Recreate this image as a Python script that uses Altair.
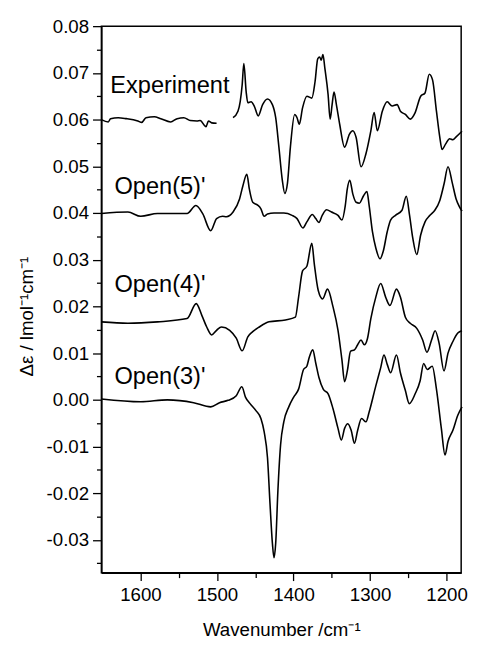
import altair as alt
import pandas as pd

# ---- Experiment (two segments, gap around 1490 cm-1) ----
exp_a_wn = [1651, 1642.0, 1639.0, 1629.1, 1618.5, 1603.4, 1598.3, 1592.7, 1581.9, 1573.4,
            1560.6, 1552.0, 1543.3, 1534.9, 1526.2, 1522.0, 1514.3, 1511.1, 1506.9, 1500.5]
exp_a_val = [0.0600, 0.0595, 0.0602, 0.0604, 0.0602, 0.0597, 0.0594, 0.0604, 0.0606, 0.0602,
             0.0595, 0.0602, 0.0604, 0.0598, 0.0597, 0.0598, 0.0585, 0.0597, 0.0593, 0.0592]

exp_b_wn = [1479.0, 1472.6, 1469.6, 1467.1, 1464.9, 1461.9, 1459.7, 1455.5, 1451.3, 1446.1,
            1440.4, 1434.0, 1427.6, 1423.3, 1419.1, 1414.7, 1411.4, 1407.9, 1404.1, 1398.5,
            1395.4, 1392.5, 1388.2, 1382.6, 1376.1, 1371.9, 1368.4, 1365.9, 1363.8, 1361.6,
            1359.0, 1354.8, 1352.2, 1349.6, 1347.1, 1344.0, 1339.7, 1333.3, 1326.9, 1322.6,
            1318.3, 1311.8, 1305.4, 1299.0, 1294.7, 1290.5, 1284.0, 1277.6, 1271.2, 1264.7,
            1260.4, 1253.9, 1247.5, 1241.1, 1233.9, 1228.2, 1222.7, 1218.4, 1213.3, 1208.9,
            1206.0, 1201.2, 1196.1, 1191.8, 1187.6, 1179.9]
exp_b_val = [0.0604, 0.0618, 0.0639, 0.0674, 0.0720, 0.0660, 0.0636, 0.0638, 0.0629, 0.0608,
             0.0632, 0.0644, 0.0632, 0.0604, 0.0541, 0.0471, 0.0442, 0.0464, 0.0541, 0.0611,
             0.0604, 0.0590, 0.0625, 0.0650, 0.0646, 0.0681, 0.0730, 0.0734, 0.0727, 0.0739,
             0.0709, 0.0653, 0.0601, 0.0632, 0.0659, 0.0632, 0.0590, 0.0541, 0.0569, 0.0576,
             0.0562, 0.0499, 0.0527, 0.0576, 0.0615, 0.0576, 0.0618, 0.0638, 0.0629, 0.0632,
             0.0618, 0.0611, 0.0601, 0.0615, 0.0650, 0.0657, 0.0697, 0.0685, 0.0618, 0.0562,
             0.0536, 0.0548, 0.0559, 0.0557, 0.0563, 0.0575]

# ---- Open(5)' ----
o5_wn = [1651, 1616.3, 1599.6, 1577.7, 1539.1, 1527.5, 1518.5, 1508.2, 1500.5, 1492.8,
         1487.7, 1479.0, 1470.5, 1466.2, 1461.0, 1457.7, 1453.3, 1446.9, 1442.6, 1438.4,
         1434.0, 1425.5, 1412.7, 1401.9, 1395.4, 1387.7, 1382.6, 1375.4, 1371.0, 1366.8,
         1362.5, 1356.8, 1350.4, 1341.9, 1336.8, 1332.4, 1329.8, 1326.5, 1322.6, 1318.3,
         1314.0, 1308.5, 1304.1, 1301.2, 1296.9, 1292.5, 1287.0, 1282.8, 1277.6, 1273.2,
         1266.8, 1258.3, 1252.7, 1248.4, 1244.2, 1239.0, 1233.9, 1228.2, 1221.8, 1215.4,
         1208.9, 1203.4, 1198.2, 1192.7, 1187.6, 1183.2, 1179.9]
o5_val = [0.0399, 0.0402, 0.0393, 0.0399, 0.0399, 0.0416, 0.0398, 0.0362, 0.0388, 0.0393,
          0.0392, 0.0402, 0.0430, 0.0458, 0.0483, 0.0451, 0.0423, 0.0417, 0.0409, 0.0393,
          0.0398, 0.0400, 0.0400, 0.0395, 0.0388, 0.0368, 0.0381, 0.0397, 0.0388, 0.0380,
          0.0395, 0.0407, 0.0402, 0.0395, 0.0385, 0.0416, 0.0451, 0.0470, 0.0441, 0.0423,
          0.0421, 0.0437, 0.0446, 0.0416, 0.0360, 0.0325, 0.0302, 0.0318, 0.0360, 0.0385,
          0.0395, 0.0406, 0.0436, 0.0395, 0.0346, 0.0311, 0.0353, 0.0381, 0.0395, 0.0406,
          0.0427, 0.0462, 0.0499, 0.0465, 0.0430, 0.0413, 0.0404]

# ---- Open(4)' ----
o4_wn = [1651, 1616.3, 1577.7, 1539.1, 1527.1, 1519.8, 1513.4, 1507.0, 1500.5, 1494.1,
         1483.4, 1474.8, 1467.1, 1459.7, 1453.3, 1444.8, 1432.0, 1410.5, 1397.6, 1393.4,
         1388.2, 1382.6, 1376.1, 1372.8, 1367.7, 1362.0, 1355.6, 1348.4, 1341.9, 1336.8,
         1333.3, 1329.4, 1325.6, 1320.4, 1316.2, 1311.8, 1307.6, 1303.3, 1299.0, 1292.5,
         1286.1, 1279.7, 1274.1, 1265.5, 1260.4, 1253.9, 1247.5, 1239.0, 1231.3, 1225.7,
         1219.7, 1215.0, 1209.8, 1203.4, 1198.2, 1191.8, 1185.4, 1179.9]
o4_val = [0.0167, 0.0164, 0.0167, 0.0174, 0.0206, 0.0181, 0.0156, 0.0139, 0.0149, 0.0156,
          0.0149, 0.0132, 0.0105, 0.0135, 0.0146, 0.0156, 0.0167, 0.0171, 0.0177, 0.0220,
          0.0276, 0.0286, 0.0335, 0.0290, 0.0234, 0.0216, 0.0237, 0.0199, 0.0149, 0.0086,
          0.0039, 0.0065, 0.0104, 0.0107, 0.0118, 0.0128, 0.0118, 0.0132, 0.0174, 0.0220,
          0.0249, 0.0220, 0.0202, 0.0237, 0.0220, 0.0177, 0.0164, 0.0153, 0.0128, 0.0102,
          0.0128, 0.0148, 0.0121, 0.0062, 0.0100, 0.0125, 0.0143, 0.0148]

# ---- Open(3)' ----
o3_wn = [1651, 1599.6, 1564.8, 1530.5, 1508.2, 1496.7, 1485.5, 1474.8, 1467.5, 1462.8,
         1456.8, 1449.1, 1442.6, 1438.4, 1434.0, 1430.7, 1427.6, 1425.5, 1423.3, 1420.4,
         1416.9, 1412.7, 1406.2, 1399.8, 1393.4, 1386.9, 1382.6, 1379.6, 1374.9, 1371.0,
         1366.8, 1361.2, 1354.8, 1348.4, 1341.9, 1337.6, 1333.3, 1329.1, 1324.7, 1320.4,
         1316.2, 1311.1, 1305.4, 1301.2, 1292.5, 1286.1, 1281.9, 1277.6, 1273.2, 1265.5,
         1260.4, 1253.9, 1248.8, 1241.1, 1234.6, 1230.0, 1225.3, 1218.8, 1213.3, 1206.9,
         1202.1, 1198.2, 1191.8, 1185.4, 1179.9]
o3_val = [0.0002, -0.0004, 0.0000, -0.0006, -0.0015, -0.0006, -0.0001, 0.0009, 0.0028, 0.0006,
          -0.0008, -0.0023, -0.0040, -0.0068, -0.0124, -0.0223, -0.0307, -0.0338, -0.0307, -0.0194,
          -0.0096, -0.0047, -0.0015, 0.0006, 0.0023, 0.0065, 0.0072, 0.0090, 0.0107, 0.0079,
          0.0048, 0.0023, 0.0013, -0.0019, -0.0061, -0.0086, -0.0061, -0.0051, -0.0065, -0.0093,
          -0.0065, -0.0040, -0.0047, -0.0026, 0.0030, 0.0069, 0.0096, 0.0076, 0.0058, 0.0096,
          0.0058, 0.0020, -0.0008, 0.0013, 0.0041, 0.0078, 0.0065, 0.0072, 0.0023, -0.0061,
          -0.0118, -0.0089, -0.0065, -0.0033, -0.0015]

# ---- Curve labels ----
label_text = ["Experiment", "Open(5)'", "Open(4)'", "Open(3)'"]
label_wn = [1639.4, 1633.9, 1633.9, 1633.9]
label_val = [0.0656, 0.0441, 0.0230, 0.0034]

x_ticks = [1200, 1250, 1300, 1350, 1400, 1450, 1500, 1550, 1600]
y_major_ticks = [round(i * 0.01, 2) for i in range(-3, 9)]
y_minor_ticks = [round(i * 0.01 + 0.005, 3) for i in range(-4, 8)]

FONT = "Liberation Sans"

frames = []
for name, wn, val in [("exp_a", exp_a_wn, exp_a_val), ("exp_b", exp_b_wn, exp_b_val),
                      ("o5", o5_wn, o5_val), ("o4", o4_wn, o4_val), ("o3", o3_wn, o3_val)]:
    frames.append(pd.DataFrame({"series": name, "wn": wn, "val": val}))
curves = pd.concat(frames, ignore_index=True)
labels = pd.DataFrame({"text": label_text, "wn": label_wn, "val": label_val})

xscale = alt.Scale(domain=[1181, 1651], reverse=True, nice=False, zero=False)
yscale = alt.Scale(domain=[-0.037, 0.08], nice=False, zero=False)

x_major = "datum.value % 100 === 0"

x_axis = alt.Axis(
    values=x_ticks,
    title="Wavenumber /cm\u207b\u00b9",
    grid=False,
    labelExpr=f"{x_major} ? format(datum.value, 'd') : ''",
    labelOverlap=False,
    tickSize={"condition": {"test": x_major, "value": 8}, "value": 5},
    labelPadding=5,
    titleY=64,
    titleBaseline="alphabetic",
)
y_axis = alt.Axis(
    orient="left",
    values=y_major_ticks,
    title="\u0394\u03b5 / lmol\u207b\u00b9cm\u207b\u00b9",
    grid=False,
    labelExpr="(datum.value < -0.0001 ? '-' : '') + format(abs(datum.value), '.2f')",
    labelOverlap=False,
    tickSize=9,
    labelPadding=4,
    titleAngle=270,
    titleX=-76,
    titleY=295,
    titleBaseline="middle",
    titleAlign="center",
)
y_minor_axis = alt.Axis(
    orient="left",
    values=y_minor_ticks,
    title=None,
    grid=False,
    labels=False,
    domain=False,
    tickSize=5,
)

lines = alt.Chart(curves).mark_line(
    color="black", strokeWidth=1.6, interpolate="monotone"
).encode(
    x=alt.X("wn:Q", scale=xscale, axis=x_axis),
    y=alt.Y("val:Q", scale=yscale, axis=y_axis),
    detail="series:N",
    order=alt.Order("wn:Q", sort="descending"),
)

texts = alt.Chart(labels).mark_text(
    align="left", baseline="alphabetic", fontSize=24, font=FONT, color="black"
).encode(
    x=alt.X("wn:Q", scale=xscale),
    y=alt.Y("val:Q", scale=yscale, axis=y_minor_axis),
    text="text:N",
)

chart = alt.layer(lines, texts).resolve_axis(y="independent").properties(
    width=366,
    height=556,
    autosize="none",
    padding={"left": 95, "top": 13, "right": 10, "bottom": 64},
).configure_view(
    stroke="black", strokeWidth=1.5
).configure_axis(
    domainColor="black", domainWidth=1.5, tickColor="black", tickWidth=1.3,
    labelFont=FONT, labelFontSize=19, labelColor="black",
    titleFont=FONT, titleFontSize=19, titleFontWeight="normal", titleColor="black",
)

chart.save("out.html", embed_options={"renderer": "svg", "actions": False})
